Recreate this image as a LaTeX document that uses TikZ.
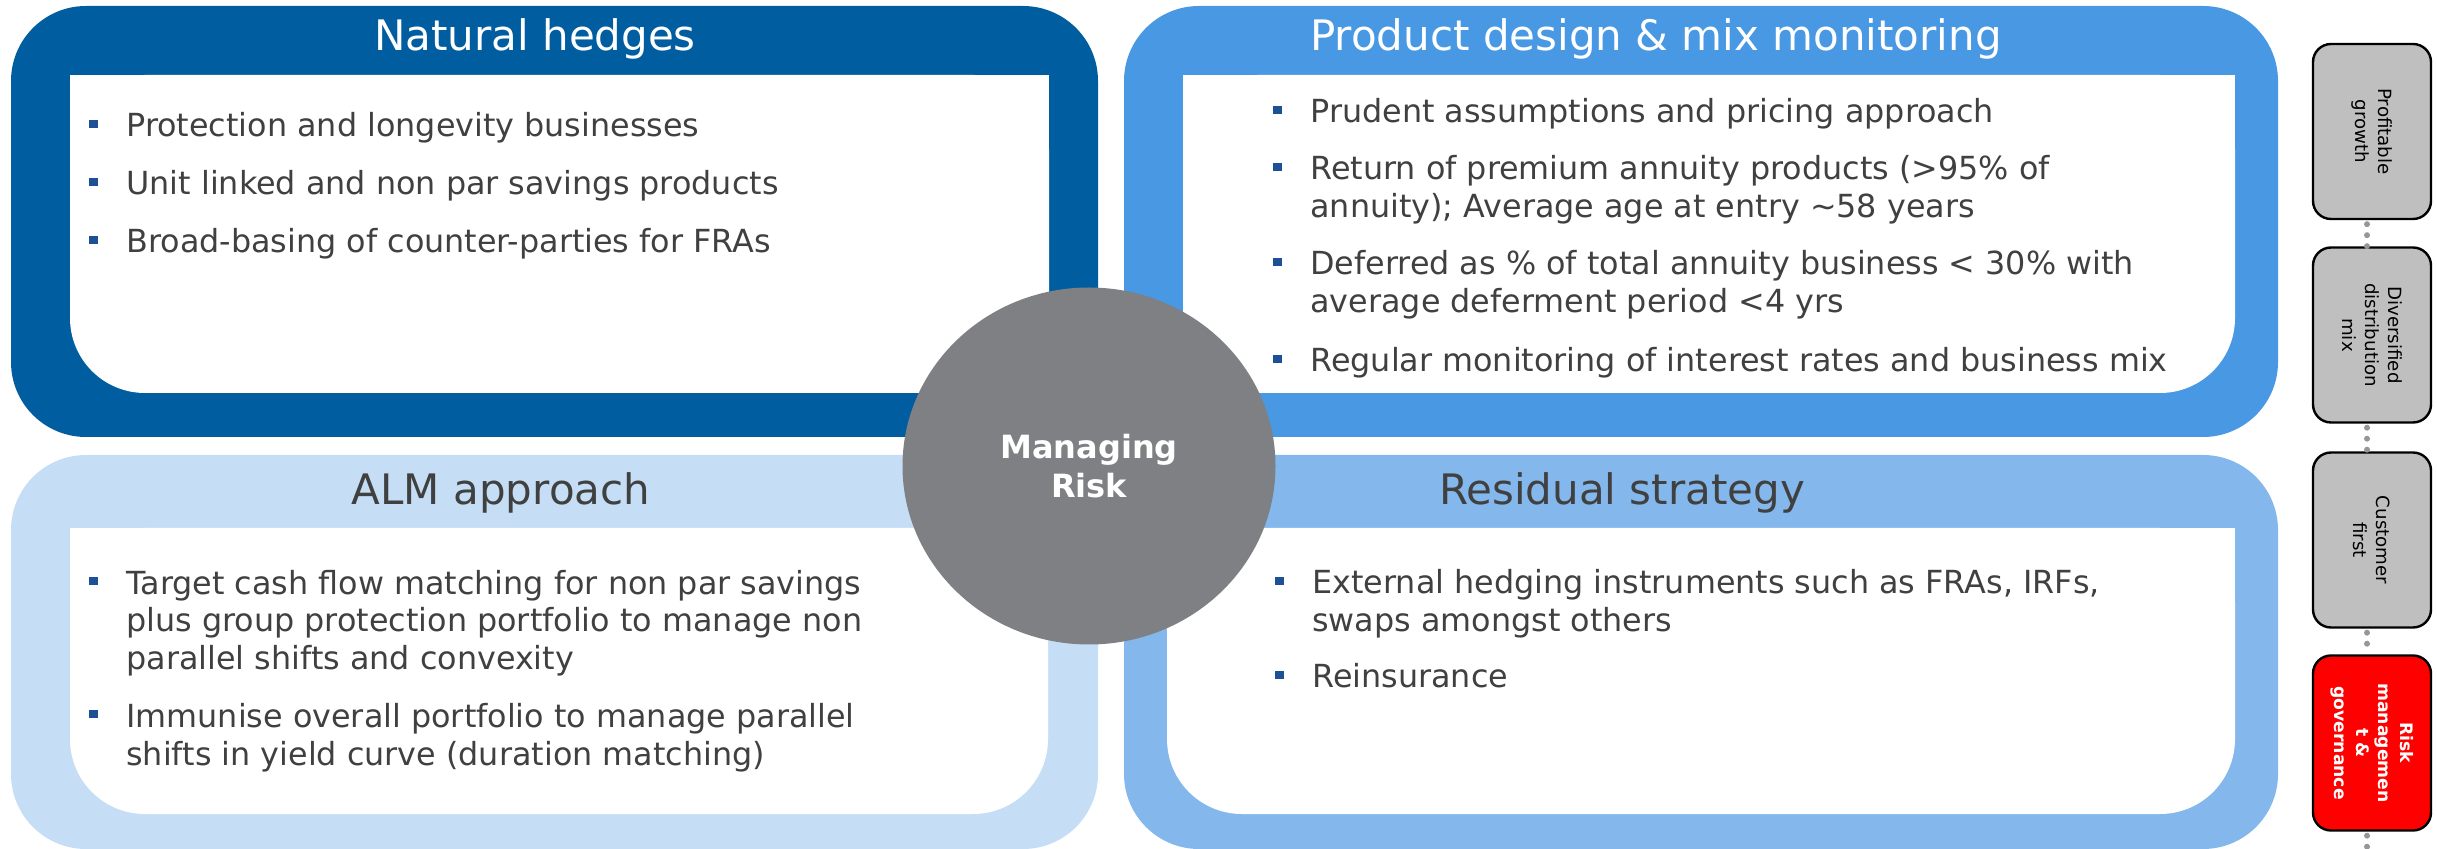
\documentclass[tikz,border=0pt]{standalone}
\usepackage{fontspec}
\setmainfont{DejaVu Sans}
\usetikzlibrary{shapes.geometric}
\definecolor{hedgeblue}{RGB}{0,94,160}
\definecolor{designblue}{RGB}{72,152,228}
\definecolor{almblue}{RGB}{197,222,246}
\definecolor{residualblue}{RGB}{132,184,237}
\definecolor{riskgray}{RGB}{127,128,131}
\definecolor{bodygray}{RGB}{64,64,64}
\definecolor{bulletblue}{RGB}{30,80,150}
\definecolor{pillargray}{RGB}{191,191,191}
\definecolor{dotgray}{RGB}{150,150,150}
\newcommand{\bul}{\llap{\textcolor{bulletblue}{\rule[4.5pt]{4.2pt}{4.2pt}}\hspace{14.3pt}}}
\begin{document}
\begin{tikzpicture}[x=0.5pt,y=-0.5pt]

		\tikzset{
		  panel/.style={rounded corners=37.5pt},
		  title/.style={anchor=base, inner sep=0pt, font=\fontsize{21}{25}\selectfont},
		  item/.style={anchor=base west, inner sep=0pt, align=left, text=bodygray, font=\fontsize{15.9}{19}\selectfont},
		  pillar/.style={draw=black, line width=1.2pt, fill=pillargray, rounded corners=9pt, rotate=-90, minimum width=87.5pt, minimum height=59pt, inner sep=0pt, align=center, font=\fontsize{9.1}{11.5}\selectfont},
		  dotlink/.style={color={dotgray}, line width=3pt, line cap=round, dash pattern=on 0pt off 5.5pt, dash phase=3.5pt},
		}
		\useasboundingbox (0,0) rectangle (2437,849);
		\fill[color={hedgeblue}, panel] (11,6) rectangle (1098,437);
		\fill[color={designblue}, panel] (1124,6) rectangle (2278,437);
		\fill[color={almblue}, panel] (11,455) rectangle (1098,849);
		\fill[color={residualblue}, panel] (1124,455) rectangle (2278,849);
		\fill[color={white}, panel] (70,75) rectangle (1049,393);
		\fill[color={white}] (70,75) rectangle (1049,250);
		\fill[color={white}, panel] (1183,75) rectangle (2235,393);
		\fill[color={white}] (1183,75) rectangle (2235,250);
		\fill[color={white}, panel] (70,528) rectangle (1048,814);
		\fill[color={white}] (70,528) rectangle (1048,700);
		\fill[color={white}, panel] (1167,528) rectangle (2235,814);
		\fill[color={white}] (1167,528) rectangle (2235,700);
		\node[title, text=white] (hedgetitle) at (535,51) {Natural hedges};
		\node[title, text=white] (designtitle) at (1656,51) {Product design \& mix monitoring};
		\node[title, text=bodygray] (almtitle) at (501,505) {ALM approach};
		\node[title, text=bodygray] (residualtitle) at (1622,505) {Residual strategy};
		\node[item] (hedge1) at (126,137) {\bul Protection and longevity businesses};
		\node[item] (hedge2) at (126,195) {\bul Unit linked and non par savings products};
		\node[item] (hedge3) at (126,253) {\bul Broad-basing of counter-parties for FRAs};
		\node[item] (design1) at (1310,123) {\bul Prudent assumptions and pricing approach};
		\node[item] (design2) at (1310,218) {\bul Return of premium annuity products (>95\% of\\annuity); Average age at entry \textasciitilde58 years};
		\node[item] (design3) at (1310,313) {\bul Deferred as \% of total annuity business < 30\% with\\average deferment period <4 yrs};
		\node[item] (design4) at (1310,372) {\bul Regular monitoring of interest rates and business mix};
		\node[item] (alm1) at (126,670) {\bul Target cash flow matching for non par savings\\plus group protection portfolio to manage non\\parallel shifts and convexity};
		\node[item] (alm2) at (126,765) {\bul Immunise overall portfolio to manage parallel\\shifts in yield curve (duration matching)};
		\node[item] (residual1) at (1312,632) {\bul External hedging instruments such as FRAs, IRFs,\\swaps amongst others};
		\node[item] (residual2) at (1312,688) {\bul Reinsurance};
		\node[ellipse, fill=riskgray, minimum width=186.5pt, minimum height=178.5pt, inner sep=0pt, text=white, align=center, font=\bfseries\fontsize{16}{19.5}\selectfont] (risk) at (1089,466) {Managing\\Risk};
		\node[pillar] (growth) at (2372,131.5) {Profitable\\growth};
		\node[pillar] (distribution) at (2372,335) {Diversified\\distribution\\mix};
		\node[pillar] (customer) at (2372,540) {Customer\\first};
		\node[pillar, fill=red, text=white, font=\bfseries\fontsize{8.6}{11}\selectfont] (riskgov) at (2372,743) {Risk\\managemen\\t \&\\governance};
		\coordinate (pillarend) at (2367,880);
		\draw[dotlink] ([xshift=-2.5pt]growth.east) -- ([xshift=-2.5pt]distribution.west);
		\draw[dotlink] ([xshift=-2.5pt]distribution.east) -- ([xshift=-2.5pt]customer.west);
		\draw[dotlink] ([xshift=-2.5pt]customer.east) -- ([xshift=-2.5pt]riskgov.west);
		\draw[dotlink] ([xshift=-2.5pt]riskgov.east) -- (pillarend);

\end{tikzpicture}
\end{document}
